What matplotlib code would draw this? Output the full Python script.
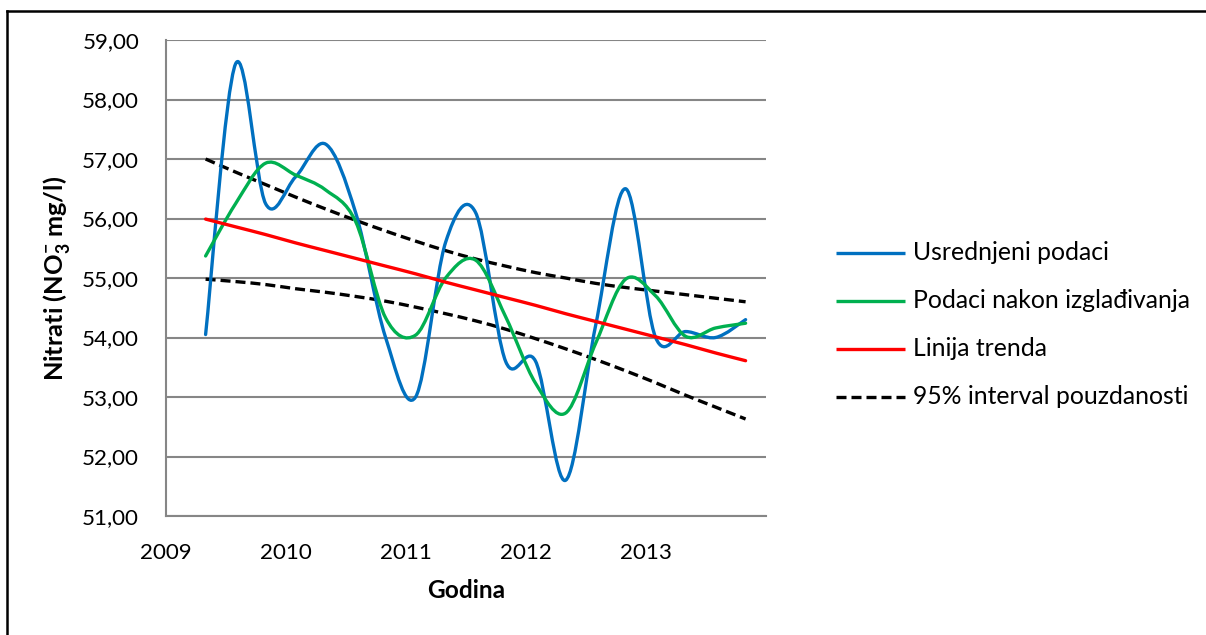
import matplotlib
matplotlib.use("Agg")
import matplotlib.pyplot as plt
from matplotlib.path import Path
from matplotlib.patches import PathPatch
from matplotlib.lines import Line2D
import numpy as np

plt.rcParams['font.family'] = ['Lato', 'DejaVu Sans']
plt.rcParams['mathtext.fontset'] = 'custom'
plt.rcParams['mathtext.rm'] = 'Lato:bold'
plt.rcParams['mathtext.bf'] = 'Lato:bold'

# ---- data (quarterly, decimal years) ----
years = [2009.33, 2009.58, 2009.83, 2010.08, 2010.33, 2010.58, 2010.83,
         2011.08, 2011.33, 2011.58, 2011.83, 2012.08, 2012.33, 2012.58,
         2012.83, 2013.08, 2013.33, 2013.58, 2013.83]
averaged = [54.05, 58.60, 56.25, 56.70, 57.25, 56.10, 54.00, 53.00, 55.60,
            56.10, 53.60, 53.60, 51.60, 54.20, 56.50, 54.00, 54.10, 54.00, 54.30]
smoothed = [55.37, 56.25, 56.93, 56.73, 56.48, 55.95, 54.33, 54.04, 55.00,
            55.30, 54.35, 53.23, 52.73, 53.90, 54.98, 54.70, 54.02, 54.16, 54.24]
trend = [55.99, 55.86, 55.73, 55.59, 55.46, 55.33, 55.20, 55.07, 54.93, 54.80,
         54.67, 54.54, 54.40, 54.27, 54.14, 54.01, 53.88, 53.74, 53.61]
ci_upper = [57.00, 56.78, 56.57, 56.36, 56.16, 55.97, 55.79, 55.62, 55.46, 55.32,
            55.20, 55.09, 55.00, 54.91, 54.84, 54.78, 54.72, 54.66, 54.60]
ci_lower = [54.98, 54.94, 54.89, 54.82, 54.76, 54.69, 54.61, 54.51, 54.40, 54.28,
            54.14, 53.98, 53.81, 53.63, 53.44, 53.24, 53.03, 52.83, 52.63]

labels = ["Usrednjeni podaci", "Podaci nakon izglađivanja", "Linija trenda",
          "95% interval pouzdanosti"]
xticks = [2009, 2010, 2011, 2012, 2013]
yticks = [51, 52, 53, 54, 55, 56, 57, 58, 59]

W, H = 1206, 635


def smooth_path(x, y):
    """Excel-style smoothed line: cubic Bezier segments through the points."""
    x = np.asarray(x, float)
    y = np.asarray(y, float)
    n = len(x)
    verts = [(x[0], y[0])]
    codes = [Path.MOVETO]
    for i in range(n - 1):
        xp, yp = (x[i - 1], y[i - 1]) if i > 0 else (x[i], y[i])
        xn2, yn2 = (x[i + 2], y[i + 2]) if i + 2 < n else (x[i + 1], y[i + 1])
        c1 = (x[i] + (x[i + 1] - xp) / 6.0, y[i] + (y[i + 1] - yp) / 6.0)
        c2 = (x[i + 1] - (xn2 - x[i]) / 6.0, y[i + 1] - (yn2 - y[i]) / 6.0)
        verts += [c1, c2, (x[i + 1], y[i + 1])]
        codes += [Path.CURVE4] * 3
    return Path(verts, codes)


fig = plt.figure(figsize=(W / 100, H / 100), dpi=100)
ax = fig.add_axes([166 / W, 1 - 516 / H, 600 / W, 476 / H])

grid_c = '#868686'
ax.set_xlim(2009, 2014)
ax.set_ylim(51, 59)
ax.set_xticks(xticks)
ax.set_yticks(yticks)
ax.set_yticklabels([f"{v:.2f}".replace('.', ',') for v in yticks])
ax.tick_params(length=0, labelsize=16)
ax.yaxis.grid(True, color=grid_c, linewidth=1.5)
ax.set_axisbelow(True)
for s in ['top', 'right']:
    ax.spines[s].set_visible(False)
for s in ['left', 'bottom']:
    ax.spines[s].set_color(grid_c)
    ax.spines[s].set_linewidth(1.5)

lw = 2.4
blue = '#0070C0'
green = '#00B050'
red = '#FF0000'
dash = (0, (3.0, 1.5))

for yy, col, ls in [(ci_upper, 'black', 'dash'), (ci_lower, 'black', 'dash'),
                    (averaged, blue, '-'), (smoothed, green, '-'), (trend, red, '-')]:
    p = PathPatch(smooth_path(years, yy), facecolor='none', edgecolor=col,
                  linewidth=lw, capstyle='round', joinstyle='round')
    if ls == 'dash':
        p.set_linestyle(dash)
        p.set_capstyle('butt')
    ax.add_patch(p)

xlab = fig.text(466 / W, 1 - 591 / H, "Godina", fontsize=18, fontweight='bold',
                ha='center', va='center')
ylab = fig.text(57 / W, 1 - 278 / H, r"Nitrati (NO$_\mathbf{3}^{\mathbf{-}}$ mg/l)",
                fontsize=18, fontweight='bold', ha='center', va='center', rotation=90)

# legend drawn manually (Excel layout)
handles_style = [dict(color=blue), dict(color=green), dict(color=red),
                 dict(color='black', linestyle=dash)]
row_y = [253, 300.5, 348.5, 396.5]
leg_texts = []
for lab, st, ry in zip(labels, handles_style, row_y):
    fig.add_artist(Line2D([836 / W, 905 / W], [1 - ry / H, 1 - ry / H],
                          transform=fig.transFigure, lw=lw, solid_capstyle='butt',
                          dash_capstyle='butt', **st))
    leg_texts.append(fig.text(913 / W, 1 - ry / H, lab, fontsize=18,
                              ha='left', va='center'))

# outer frame (top and left edges visible)
fig.add_artist(Line2D([7 / W, 7 / W], [0, 1 - 11 / H], transform=fig.transFigure,
                      color='black', lw=1.8))
fig.add_artist(Line2D([7 / W, 1], [1 - 11 / H, 1 - 11 / H], transform=fig.transFigure,
                      color='black', lw=1.8))

# ---- fit text sizes to the reference's measured extents ----
fig.canvas.draw()
r = fig.canvas.get_renderer()


def fit(t, target, dim='w'):
    bb = t.get_window_extent(r)
    cur = bb.width if dim == 'w' else bb.height
    t.set_fontsize(t.get_fontsize() * target / cur)


fit(leg_texts[1], 276)
for t in leg_texts:
    t.set_fontsize(leg_texts[1].get_fontsize())
fit(xlab, 78)
fit(ylab, 205, 'h')

xt = ax.get_xticklabels()[1]
bb = xt.get_window_extent(r)
ax.tick_params(axis='x', labelsize=16 * 52 / bb.width)
yt = ax.get_yticklabels()[-1]
bb = yt.get_window_extent(r)
ax.tick_params(axis='y', labelsize=16 * 57 / bb.width)

fig.canvas.draw()
# position tick labels: y labels right edge ~139px, x labels centred ~553px
bb = ax.get_yticklabels()[-1].get_window_extent(r)
cur_pad = ax.yaxis.get_major_ticks()[0].get_pad()
ax.tick_params(axis='y', pad=cur_pad + (bb.x1 - 139) * 0.72)
bb = ax.get_xticklabels()[1].get_window_extent(r)
cur_pad = ax.xaxis.get_major_ticks()[0].get_pad()
cy = (bb.y0 + bb.y1) / 2
ax.tick_params(axis='x', pad=cur_pad + (cy - (H - 553)) * 0.72)

fig.savefig("out.png", dpi=100)
